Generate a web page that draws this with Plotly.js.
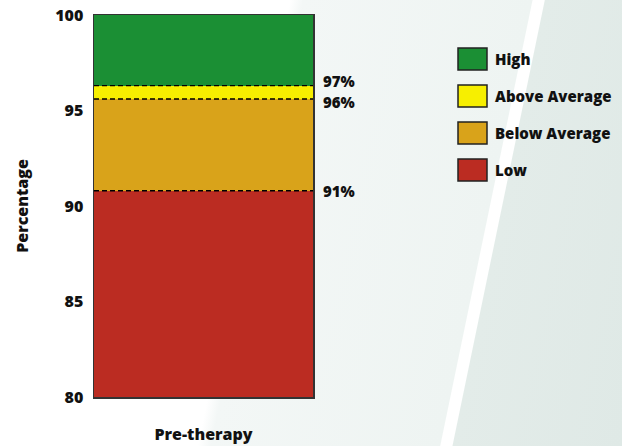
<!DOCTYPE html>
<html>
<head>
<meta charset="utf-8">
<script src="https://cdn.plot.ly/plotly-3.0.1.min.js"></script>
<style>
  html, body { margin: 0; padding: 0; }
  #chart {
    width: 622px; height: 446px;
    background: linear-gradient(101.7deg,
      #ffffff 0px, #ffffff 284px,
      #f3f7f6 297px, #eef4f2 521px,
      #ffffff 522px, #ffffff 533px,
      #e3ece9 534px, #dfe9e6 699px);
  }
</style>
</head>
<body>
<div id="chart"></div>
<script>
// ---- data ----
const categories = ['Pre-therapy'];
const seriesNames = ['Low', 'Below Average', 'Above Average', 'High'];
const lowValues = [90.8];
const belowAverageValues = [4.8];
const aboveAverageValues = [0.7];
const highValues = [3.7];
const boundaryLabels = ['91%', '96%', '97%'];
const yTickValues = [80, 85, 90, 95, 100];
const yAxisTitle = 'Percentage';

// ---- styles ----
const colors = ['#bb2c22', '#d9a31a', '#f7ef00', '#1b8f34'];
const fontFamily = '"Open Sans", "Noto Sans", sans-serif';
const W = 800;
const seriesValues = [lowValues, belowAverageValues, aboveAverageValues, highValues];

const traces = seriesNames.map((name, i) => ({
  type: 'bar',
  name: name,
  x: categories,
  y: seriesValues[i],
  marker: { color: colors[i], line: { width: 0 } },
  hoverinfo: 'name+y',
  showlegend: false
}));

// cumulative boundaries between segments (from data)
const boundaries = [];
let cum = 0;
for (let i = 0; i < seriesValues.length - 1; i++) {
  cum += seriesValues[i][0];
  boundaries.push(cum);
}

const shapes = boundaries.map(b => ({
  type: 'line', xref: 'paper', yref: 'y',
  x0: 0, x1: 1, y0: b, y1: b,
  line: { color: '#000000', width: 1.4, dash: '5px,3px' }
}));

const labelShifts = [0, -3, 5];
const annotations = boundaries.map((b, i) => ({
  xref: 'paper', yref: 'y', x: 1, y: b,
  xanchor: 'left', yanchor: 'middle', xshift: 8, yshift: labelShifts[i],
  text: boundaryLabels[i], showarrow: false,
  font: { family: fontFamily, size: 15, weight: W, color: '#111111' }
}));

// custom legend (High on top)
const plotLeft = 94, plotWidth = 219, plotTop = 15, plotHeight = 382;
const px = v => (v - plotLeft) / plotWidth;
const py = v => 1 - (v - plotTop) / plotHeight;
const legendOrder = [3, 2, 1, 0];
legendOrder.forEach((si, k) => {
  const cy = 59 + k * 37;
  shapes.push({
    type: 'rect', xref: 'paper', yref: 'paper',
    x0: px(458), x1: px(487), y0: py(cy + 11), y1: py(cy - 11),
    fillcolor: colors[si], line: { color: '#222222', width: 1.5 }
  });
  annotations.push({
    xref: 'paper', yref: 'paper', x: px(493), y: py(cy),
    xanchor: 'left', yanchor: 'middle', showarrow: false,
    text: seriesNames[si],
    font: { family: fontFamily, size: 15, weight: W, color: '#111111' }
  });
});

const layout = {
  width: 622, height: 446,
  margin: { l: 94, r: 309, t: 15, b: 49 },
  paper_bgcolor: 'rgba(0,0,0,0)',
  plot_bgcolor: 'rgba(0,0,0,0)',
  barmode: 'stack',
  bargap: 0,
  showlegend: false,
  font: { family: fontFamily, size: 16, weight: W, color: '#111111' },
  xaxis: {
    range: [-0.5, 0.5],
    showgrid: false, zeroline: false,
    showline: true, mirror: true, linecolor: '#333333', linewidth: 1.5,
    ticks: 'outside', ticklen: 22, tickcolor: 'rgba(0,0,0,0)',
    tickfont: { family: fontFamily, size: 16, weight: W, color: '#111111' },
    fixedrange: true
  },
  yaxis: {
    range: [80, 100],
    tickvals: yTickValues,
    showgrid: false, zeroline: false,
    showline: true, mirror: true, linecolor: '#333333', linewidth: 1.5,
    ticks: 'outside', ticklen: 6, tickcolor: 'rgba(0,0,0,0)',
    tickfont: { family: fontFamily, size: 16, weight: W, color: '#111111' },
    title: { text: yAxisTitle, standoff: 22,
      font: { family: fontFamily, size: 16, weight: W, color: '#111111' } },
    automargin: false,
    fixedrange: true
  },
  shapes: shapes,
  annotations: annotations
};

Plotly.newPlot('chart', traces, layout, { displayModeBar: false, staticPlot: true });
</script>
</body>
</html>
